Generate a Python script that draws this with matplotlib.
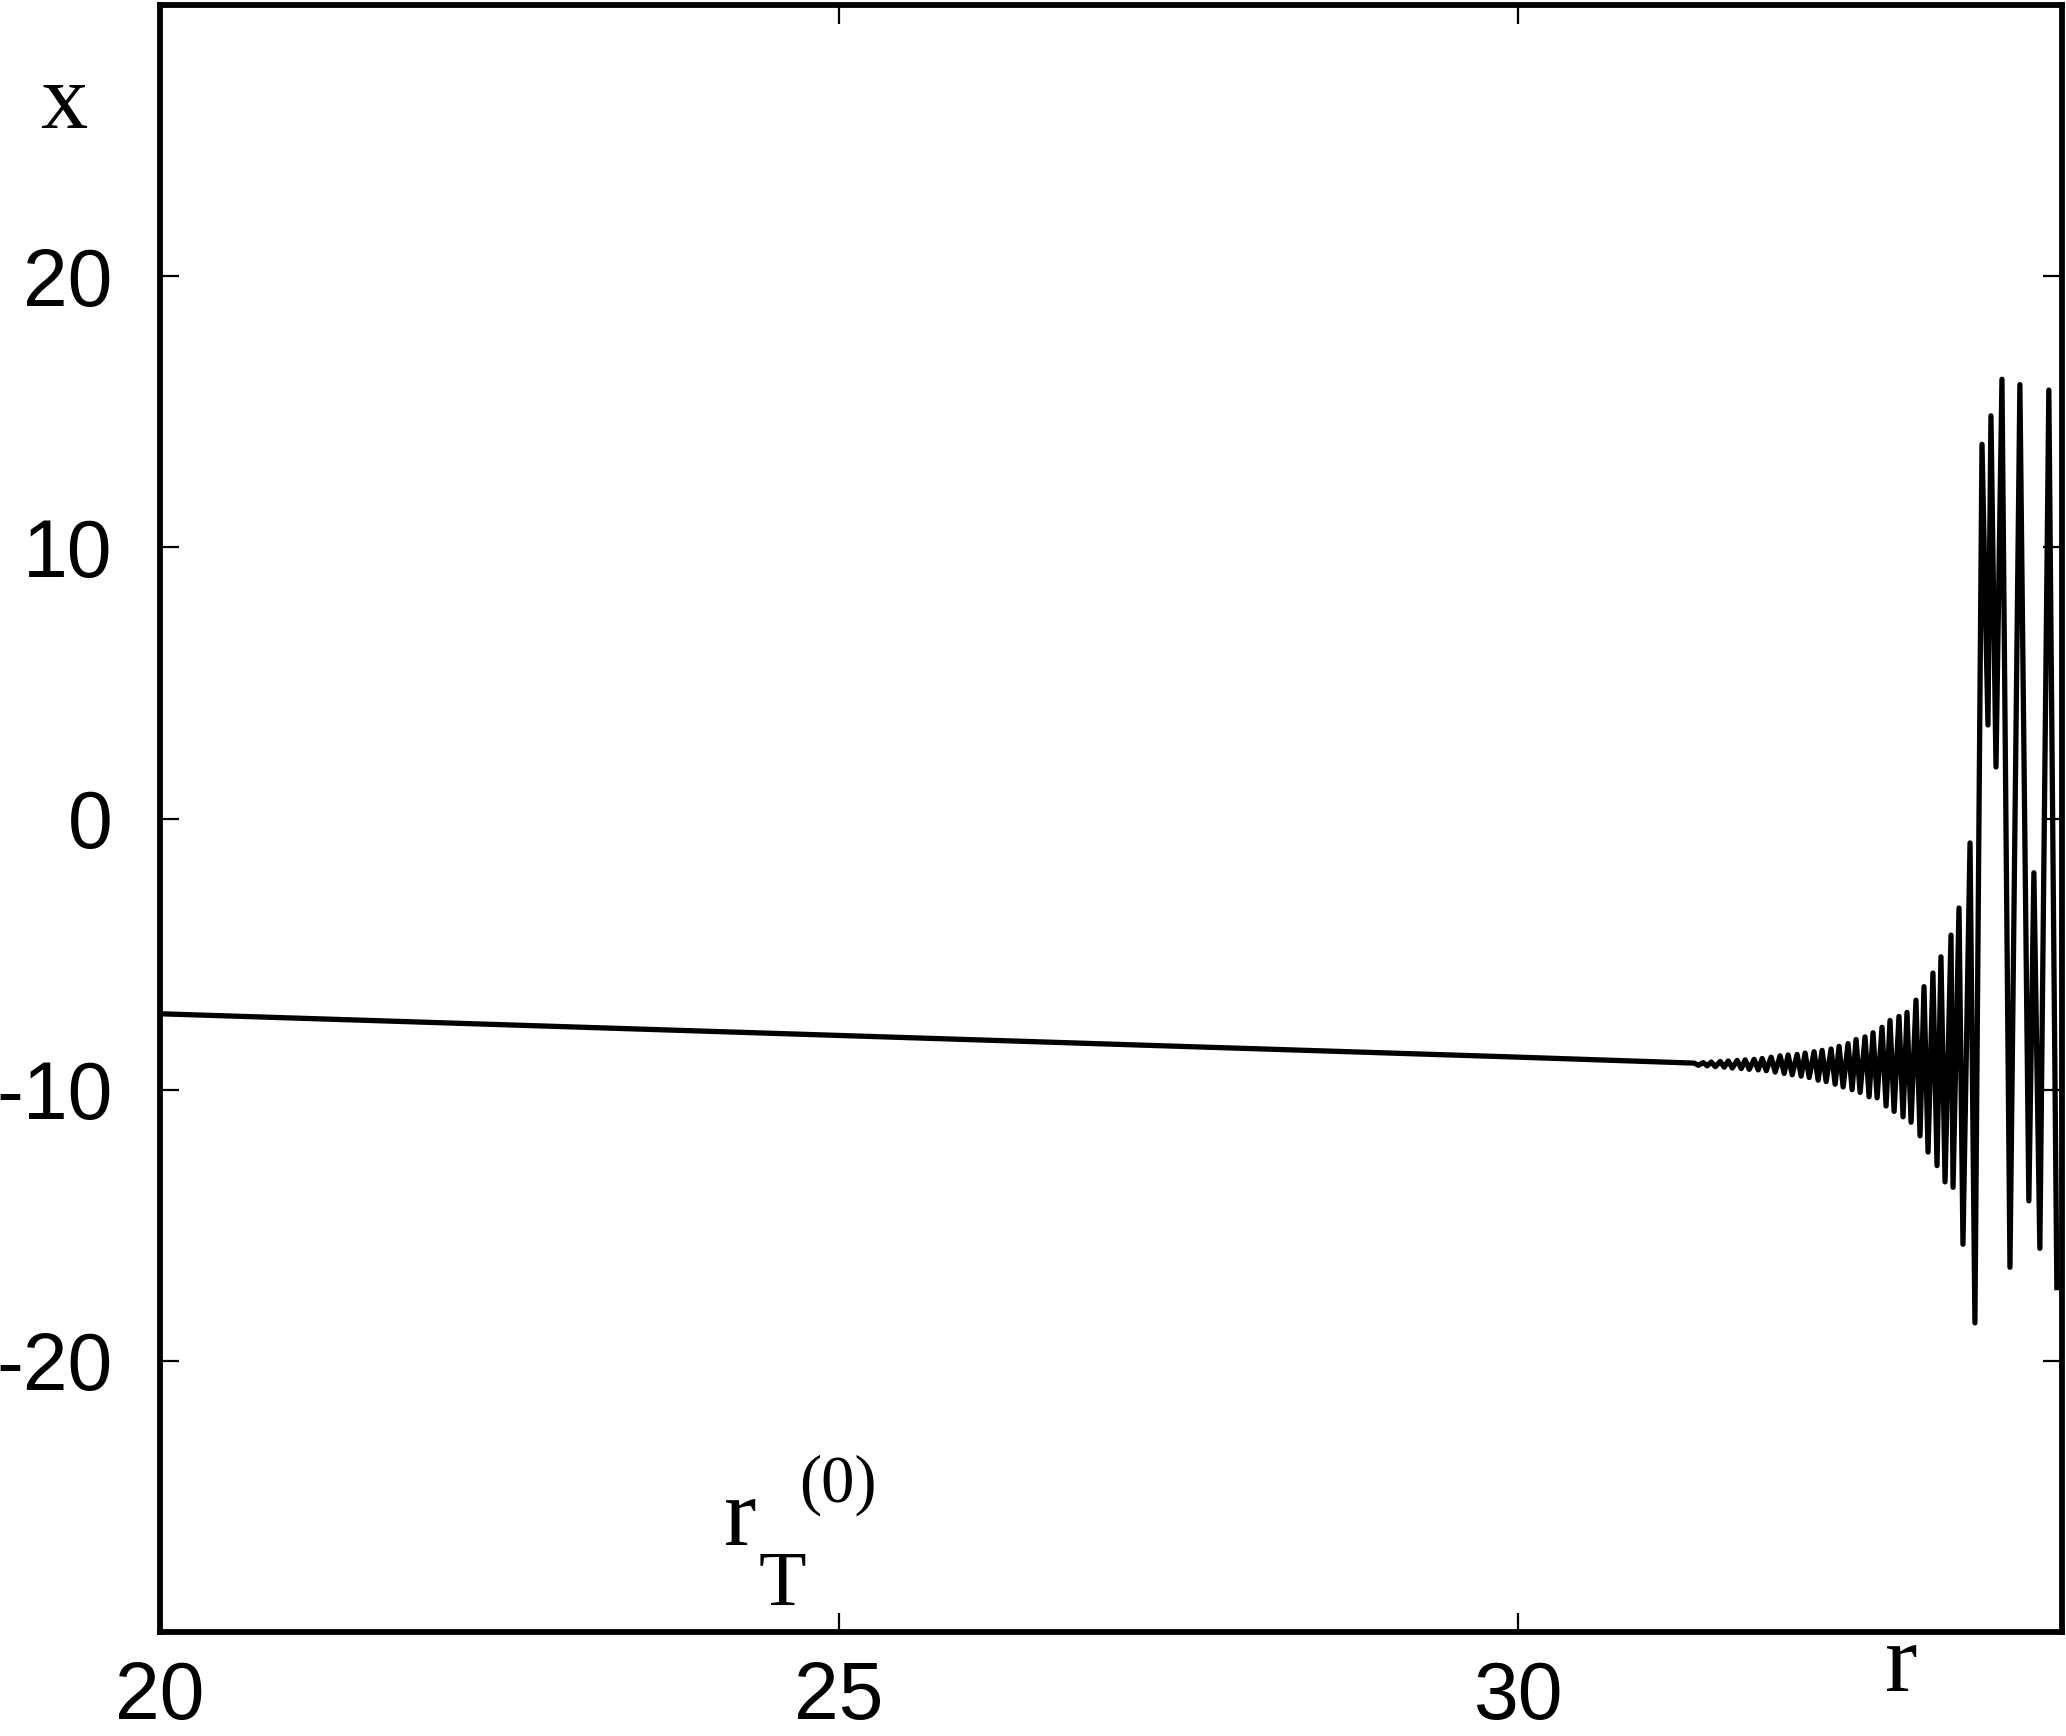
import matplotlib
matplotlib.use("Agg")
import matplotlib.pyplot as plt
import numpy as np

plt.rcParams['axes.unicode_minus'] = False

# smooth part of the curve
r_lin = [20.0, 22.5, 25.0, 27.5, 30.0, 31.0]
x_lin = [-7.2, -7.6, -8.0, -8.4, -8.8, -8.97]

# small alternating oscillations (peak / trough pairs)
r_peak = [31.294, 31.360, 31.419, 31.485, 31.544, 31.610, 31.669, 31.735, 31.794, 31.860,
          31.926, 31.985, 32.051, 32.110, 32.176, 32.235, 32.301, 32.360, 32.426, 32.485,
          32.551, 32.610, 32.676, 32.735, 32.801, 32.860, 32.926, 32.985, 33.051, 33.110]
x_peak = [-9.02, -9.0, -8.98, -8.96, -8.94, -8.92, -8.9, -8.88, -8.85, -8.8,
          -8.75, -8.72, -8.7, -8.65, -8.6, -8.55, -8.5, -8.4, -8.3, -8.15,
          -8.05, -7.9, -7.7, -7.45, -7.3, -7.15, -6.7, -6.2, -5.7, -5.1]
r_trough = [31.324, 31.390, 31.449, 31.515, 31.574, 31.640, 31.699, 31.765, 31.824, 31.890,
            31.956, 32.015, 32.081, 32.140, 32.206, 32.265, 32.331, 32.390, 32.456, 32.515,
            32.581, 32.640, 32.706, 32.765, 32.831, 32.890, 32.956, 33.015, 33.081, 33.140]
x_trough = [-9.1, -9.12, -9.15, -9.17, -9.2, -9.22, -9.25, -9.27, -9.3, -9.35,
            -9.4, -9.45, -9.5, -9.55, -9.65, -9.7, -9.8, -9.9, -10.0, -10.1,
            -10.26, -10.3, -10.6, -10.8, -11.0, -11.2, -11.7, -12.3, -12.8, -13.4]

# large irregular part near the right edge
r_big = [33.184, 33.199, 33.243, 33.272, 33.324, 33.360, 33.412, 33.456, 33.478, 33.515,
         33.559, 33.618, 33.691, 33.757, 33.794, 33.838, 33.904, 33.963]
x_big = [-4.3, -13.6, -3.3, -15.7, -0.9, -18.6, 13.8, 3.45, 14.85, 1.9,
         16.2, -16.55, 16.0, -14.1, -2.0, -15.85, 15.8, -17.3]

r_osc = np.ravel(np.column_stack([r_peak, r_trough]))
x_osc = np.ravel(np.column_stack([x_peak, x_trough]))
r_all = np.concatenate([r_lin, r_osc, r_big])
x_all = np.concatenate([x_lin, x_osc, x_big])

fig = plt.figure(figsize=(20.66, 17.36), dpi=100)
ax = fig.add_axes([0.0774, 0.0599, 0.9206, 0.9372])

ax.plot(r_all, x_all, color='black', lw=3.8)

ax.set_xlim(20, 34)
ax.set_ylim(-30, 30)
ax.set_xticks([20, 25, 30])
ax.set_yticks([-20, -10, 0, 10, 20])

for s in ax.spines.values():
    s.set_linewidth(4.2)

ax.tick_params(direction='in', length=14, width=1.6, top=True, right=True,
               labelsize=58)
ax.tick_params(axis='y', pad=34)
ax.tick_params(axis='x', pad=20)
for lab in ax.get_xticklabels() + ax.get_yticklabels():
    lab.set_fontfamily('Liberation Sans')

serif = 'Liberation Serif'
ax.text(19.29, 26.3, 'x', fontsize=68, family=serif, ha='center', va='center', clip_on=False)
ax.text(32.82, -31.3, 'r', fontsize=70, family=serif, ha='center', va='center', clip_on=False)
ax.text(24.27, -26.8, 'r', fontsize=70, family=serif, ha='center', va='baseline')
ax.text(24.58, -29.0, 'T', fontsize=56, family=serif, ha='center', va='baseline')
ax.text(24.99, -24.6, '(0)', fontsize=48, family=serif, ha='center', va='center')

fig.savefig('out.png', dpi=100)
